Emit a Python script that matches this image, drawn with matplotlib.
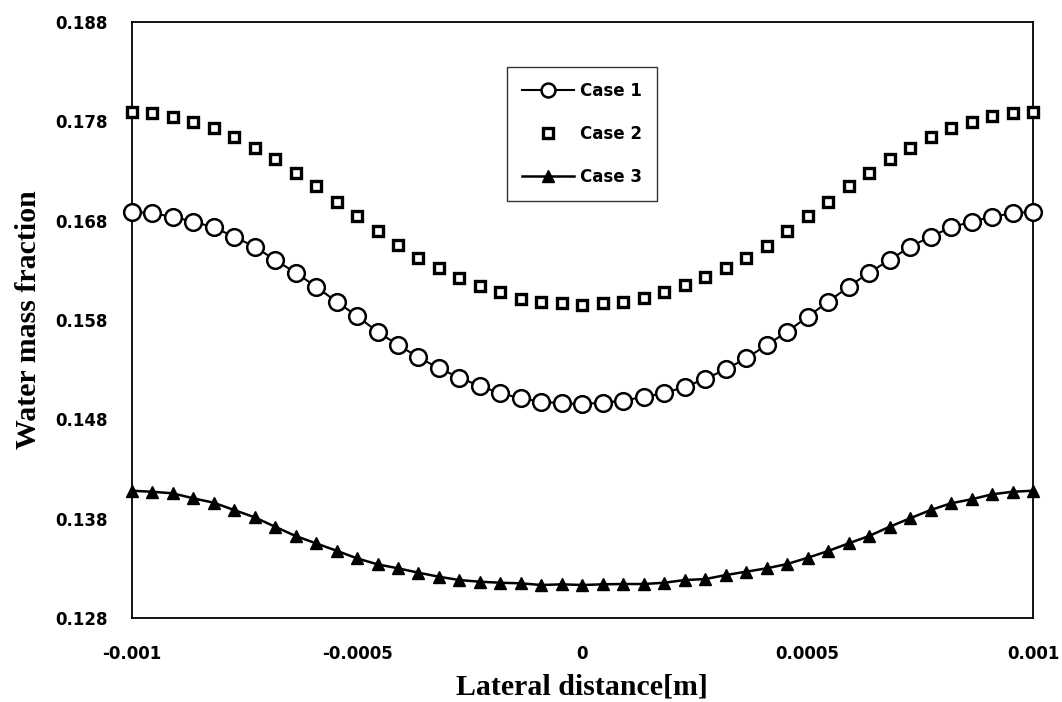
import numpy as np
import matplotlib
matplotlib.use("Agg")
import matplotlib.pyplot as plt

# lateral positions (45 points across the channel)
x = np.linspace(-0.001, 0.001, 45)

case1 = [0.16889, 0.16873, 0.16839, 0.16789, 0.16732, 0.16638, 0.16537, 0.16404, 0.16276,
         0.16135, 0.15984, 0.15840, 0.15682, 0.15549, 0.15425, 0.15314, 0.15220, 0.15136,
         0.15063, 0.15013, 0.14978, 0.14962, 0.14955,
         0.14969, 0.14988, 0.15029, 0.15063, 0.15129, 0.15207, 0.15304, 0.15415, 0.15549,
         0.15682, 0.15833, 0.15984, 0.16135, 0.16276, 0.16404, 0.16537, 0.16638, 0.16732,
         0.16789, 0.16839, 0.16873, 0.16889]

case2 = [0.17889, 0.17879, 0.17845, 0.17795, 0.17728, 0.17644, 0.17533, 0.17419, 0.17276,
         0.17148, 0.16984, 0.16846, 0.16695, 0.16554, 0.16421, 0.16320, 0.16226, 0.16142,
         0.16082, 0.16011, 0.15984, 0.15968, 0.15951,
         0.15974, 0.15984, 0.16018, 0.16085, 0.16152, 0.16230, 0.16320, 0.16421, 0.16547,
         0.16695, 0.16846, 0.16984, 0.17148, 0.17276, 0.17419, 0.17533, 0.17644, 0.17728,
         0.17795, 0.17852, 0.17879, 0.17889]

case3 = [0.14083, 0.14073, 0.14057, 0.14007, 0.13963, 0.13889, 0.13816, 0.13721, 0.13628,
         0.13554, 0.13480, 0.13403, 0.13343, 0.13303, 0.13259, 0.13218, 0.13185, 0.13168,
         0.13158, 0.13152, 0.13135, 0.13142, 0.13135,
         0.13142, 0.13145, 0.13145, 0.13158, 0.13185, 0.13195, 0.13235, 0.13269, 0.13303,
         0.13346, 0.13409, 0.13477, 0.13554, 0.13628, 0.13721, 0.13806, 0.13889, 0.13957,
         0.13997, 0.14047, 0.14073, 0.14083]

xticks = [-0.001, -0.0005, 0, 0.0005, 0.001]
xticklabels = ["-0.001", "-0.0005", "0", "0.0005", "0.001"]
yticks = [0.128, 0.138, 0.148, 0.158, 0.168, 0.178, 0.188]
yticklabels = ["0.128", "0.138", "0.148", "0.158", "0.168", "0.178", "0.188"]

fig = plt.figure(figsize=(10.62, 7.02), dpi=100)
ax = fig.add_axes([0.124, 0.1192, 0.8487, 0.8499])

ax.plot(x, case1, color="black", lw=1.5, marker="o", ms=12, mfc="white",
        mec="black", mew=1.8, label="Case 1", zorder=3, clip_on=False)
ax.plot(x, case2, ls="none", marker="s", ms=6.5, mfc="white", mec="black",
        mew=2.4, label="Case 2", zorder=3, clip_on=False)
ax.plot(x, case3, color="black", lw=1.8, marker="^", ms=9, mfc="black",
        mec="black", label="Case 3", zorder=3, clip_on=False)

ax.set_xlim(-0.001, 0.001)
ax.set_ylim(0.128, 0.188)
ax.set_xticks(xticks)
ax.set_xticklabels(xticklabels)
ax.set_yticks(yticks)
ax.set_yticklabels(yticklabels)
ax.tick_params(length=0, labelsize=12)
ax.tick_params(axis="y", pad=17)
ax.tick_params(axis="x", pad=19)
for lab in ax.get_xticklabels() + ax.get_yticklabels():
    lab.set_fontfamily("DejaVu Sans")
    lab.set_fontweight("bold")

for sp in ax.spines.values():
    sp.set_linewidth(1.3)

ax.set_xlabel("Lateral distance[m]", fontfamily="Liberation Serif",
              fontweight="bold", fontsize=21.5, labelpad=8)
ax.set_ylabel("Water mass fraction", fontfamily="Liberation Serif",
              fontweight="bold", fontsize=21.5, labelpad=10)

leg = ax.legend(loc="upper left", bbox_to_anchor=(0.4164, 0.924), frameon=True,
                fancybox=False, edgecolor="black", handlelength=3.1,
                labelspacing=1.5, borderpad=0.9, handletextpad=0.4,
                borderaxespad=0,
                prop={"family": "DejaVu Sans", "weight": "bold", "size": 12})
leg.get_frame().set_linewidth(1.0)
for h in leg.legend_handles:
    if h.get_marker() == "o":
        h.set_markersize(10)

fig.savefig("out.png", dpi=100)
